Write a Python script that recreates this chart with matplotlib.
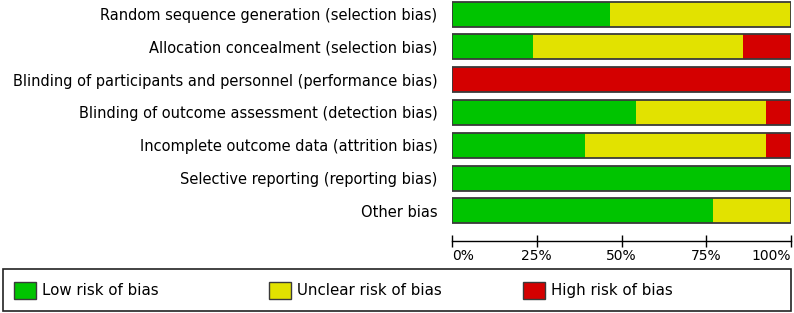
import numpy as np
import matplotlib.pyplot as plt
from matplotlib.patches import Patch, Rectangle

domains = ["Random sequence generation (selection bias)",
           "Allocation concealment (selection bias)",
           "Blinding of participants and personnel (performance bias)",
           "Blinding of outcome assessment (detection bias)",
           "Incomplete outcome data (attrition bias)",
           "Selective reporting (reporting bias)",
           "Other bias"]
low = [46.7, 23.8, 0.0, 54.2, 39.3, 100.0, 77.1]
unclear = [53.3, 61.9, 0.0, 38.4, 53.3, 0.0, 22.9]
high = [0.0, 14.3, 100.0, 7.4, 7.4, 0.0, 0.0]
ticks = [0, 25, 50, 75, 100]
tick_labels = ["0%", "25%", "50%", "75%", "100%"]
legend_labels = ["Low risk of bias", "Unclear risk of bias", "High risk of bias"]

c_low = "#00c400"
c_unc = "#e2e200"
c_high = "#d40000"
edge = "#3a3a3a"

W, H = 794, 313
fig = plt.figure(figsize=(W / 100, H / 100), dpi=100)
plt.rcParams['font.family'] = ['DejaVu Sans']

ax = fig.add_axes([452 / W, 1 - 241 / H, 339 / W, 241 / H])
y = np.arange(len(domains))
low = np.array(low)
unclear = np.array(unclear)
high = np.array(high)

# segments without edges, then an outline around the whole bar
ax.barh(y, low, height=0.76, color=c_low, linewidth=0)
ax.barh(y, unclear, left=low, height=0.76, color=c_unc, linewidth=0)
ax.barh(y, high, left=low + unclear, height=0.76, color=c_high, linewidth=0)
ax.barh(y, low + unclear + high, height=0.76, fill=False, edgecolor=edge, linewidth=1.3)

ax.set_xlim(0, 100)
ax.set_ylim(len(domains) - 1 + 0.92, -0.43)
ax.set_yticks(y)
ax.set_yticklabels(domains, fontsize=10.5)
ax.tick_params(axis='y', length=0, pad=10.5)
ax.set_xticks(ticks)
ax.set_xticklabels(tick_labels, fontsize=10)
ax.get_xticklabels()[0].set_ha('left')
ax.get_xticklabels()[-1].set_ha('right')
ax.tick_params(axis='x', direction='inout', length=9, width=1, pad=1.5)
for s in ['top', 'left', 'right']:
    ax.spines[s].set_visible(False)
ax.spines['bottom'].set_linewidth(1)

# legend box
fig.patches.append(Rectangle((3 / W, 2 / H), 788 / W, 42 / H, transform=fig.transFigure,
                             fill=False, edgecolor="#222222", linewidth=1.2))
colors = [c_low, c_unc, c_high]
for i, (lab, col) in enumerate(zip(legend_labels, colors)):
    leg = fig.legend(handles=[Patch(facecolor=col, edgecolor=edge, label=lab)],
                     loc='center left', bbox_to_anchor=((14 + i * 254.5) / W, 22.5 / H),
                     borderpad=0, borderaxespad=0, frameon=False, fontsize=10.8,
                     handlelength=1.48, handleheight=1.4, handletextpad=0.4)

fig.savefig("out.png", dpi=100)
